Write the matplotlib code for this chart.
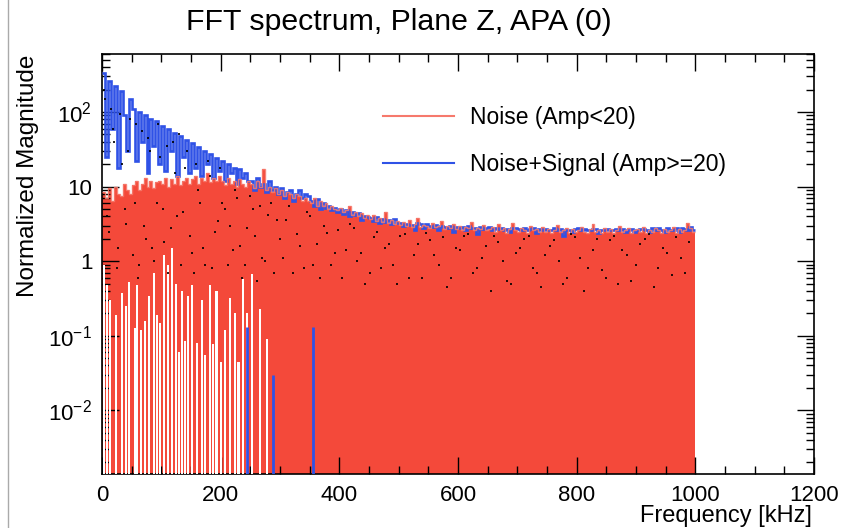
import numpy as np
import matplotlib
matplotlib.use('Agg')
import matplotlib.pyplot as plt
from matplotlib.lines import Line2D
from matplotlib.ticker import MultipleLocator, LogLocator, NullFormatter

plt.rcParams['font.family'] = ['Liberation Sans', 'DejaVu Sans']
plt.rcParams['mathtext.fontset'] = 'custom'
plt.rcParams['mathtext.rm'] = 'Liberation Sans'
plt.rcParams['mathtext.it'] = 'Liberation Sans'

# 5 kHz bins, 0..1000 kHz
bin_edges = np.arange(0, 1005, 5)

# Noise (Amp<20)
noise_mag = [
    8.5, 7, 9.5, 6.5, 10, 8, 7.5, 11, 9, 8,
    10.5, 12, 9, 11, 13, 10, 12, 9.5, 11.5, 12,
    11, 13, 10, 12.5, 11, 14, 10.5, 12, 13, 11,
    12.5, 14, 11, 13, 12, 15, 11.5, 13, 12, 14,
    12, 10.5, 13, 11, 12, 10, 12.5, 11, 10, 12,
    11, 9.5, 12, 10, 17, 9, 10, 8.5, 9.5, 8,
    9, 7.5, 8.5, 8, 7, 8, 7.5, 6.5, 7, 6.5,
    6, 7, 5.5, 6.5, 5.5, 6, 5, 5.5, 5, 4.8,
    5.2, 4.6, 4.8, 5.5, 4.2, 4.5, 4, 4.4, 3.8, 4.1,
    3.7, 4.2, 3.5, 3.8, 3.4, 4.5, 3.3, 3.6, 3.2, 3.5,
    3.1, 3.4, 3, 3.6, 2.9, 3.2, 3.8, 2.9, 3.1, 3,
    2.8, 3.3, 2.9, 3, 3.5, 2.7, 3, 2.8, 3.2, 2.7,
    3, 2.6, 2.9, 2.8, 3.4, 2.6, 2.8, 2.7, 3.1, 2.6,
    2.7, 2.9, 2.5, 3.2, 2.6, 2.8, 2.4, 2.7, 3.3, 2.6,
    2.5, 2.8, 2.6, 2.4, 3, 2.6, 2.7, 2.5, 2.9, 2.5,
    2.7, 2.4, 2.6, 3.1, 2.5, 2.6, 2.8, 2.4, 2.7, 2.5,
    2.6, 2.9, 2.5, 2.4, 2.7, 3.2, 2.5, 2.6, 2.4, 2.8,
    2.5, 2.7, 2.4, 2.6, 3, 2.5, 2.6, 2.8, 2.4, 2.6,
    2.7, 2.5, 2.9, 2.4, 2.6, 2.5, 2.8, 2.6, 2.4, 2.7,
    2.5, 2.6, 2.9, 2.4, 2.7, 2.5, 2.6, 3.3, 2.8, 2.5,
]

# Noise+Signal (Amp>=20)
signal_mag = [
    330, 25, 260, 60, 220, 18, 190, 90, 30, 150,
    110, 22, 100, 40, 90, 15, 80, 35, 75, 20,
    65, 16, 60, 30, 52, 14, 48, 25, 42, 15,
    38, 18, 34, 14, 30, 20, 27, 13, 24, 16,
    22, 12, 20, 15, 18, 11, 17, 13, 15, 12,
    12, 9, 13, 10, 11, 8.5, 12, 9, 10, 8,
    9.5, 7, 8.5, 9, 6.5, 8, 9, 7, 8, 7.5,
    6.5, 5.5, 6.8, 5, 6, 5.2, 5.5, 4.8, 5.2, 4.5,
    5, 4.3, 4.8, 4, 4.5, 4.2, 4.4, 3.6, 4, 3.9,
    3.8, 3.5, 3.9, 3.3, 3.7, 3.4, 3.6, 3.2, 3.7, 3.3,
    3.3, 3.0, 3.2, 3.1, 3.1, 2.6, 3.3, 3.2, 2.8, 3.2,
    3.0, 2.9, 3.1, 2.6, 3.0, 2.9, 2.8, 3.0, 2.5, 2.9,
    2.8, 2.9, 2.6, 3.0, 2.8, 2.8, 2.3, 2.9, 2.7, 2.8,
    2.9, 2.6, 2.8, 2.7, 2.8, 2.6, 2.7, 2.5, 2.8, 2.8,
    2.7, 2.6, 2.8, 2.6, 2.7, 2.8, 2.4, 2.7, 2.6, 2.7,
    2.6, 2.6, 2.8, 2.6, 2.7, 2.2, 2.6, 2.6, 2.5, 2.7,
    2.8, 2.6, 2.7, 2.6, 2.6, 2.7, 2.7, 2.4, 2.6, 2.6,
    2.7, 2.6, 2.6, 2.7, 2.6, 2.7, 2.5, 2.6, 2.7, 2.5,
    2.6, 2.7, 2.7, 2.6, 2.5, 2.8, 2.6, 2.8, 2.6, 2.5,
    2.8, 2.6, 2.6, 2.8, 2.5, 2.8, 2.7, 2.6, 2.9, 2.6,
]

# empty (low) noise bins at low frequency
gap_freq = [3, 8, 14, 24, 34, 40, 46, 56, 59, 66, 72, 79, 87, 93, 98, 105, 111, 118, 124, 130,
            135, 140, 145, 151, 160, 168, 174, 182, 187, 193, 201, 207, 215, 224, 230, 238, 245, 253, 267, 278]
gap_mag = [0.9, 0.48, 0.3, 0.19, 0.37, 0.25, 0.53, 0.127, 0.48, 0.12, 0.157, 0.34, 0.7, 0.19, 0.15, 1.2, 0.9, 1.5, 0.5, 0.06,
           0.4, 0.086, 0.34, 0.48, 0.08, 0.3, 0.055, 0.48, 0.078, 0.4, 0.044, 0.12, 0.32, 0.2, 0.044, 0.58, 0.2, 0.67, 0.23, 0.09]

# signal bins dropping to ~0
dip_freq = [244, 289, 356]
dip_mag = [0.13, 0.03, 0.13]

# black markers
dot_freq = [
    5, 12, 18, 25, 30, 38, 44, 52, 58, 63,
    70, 77, 85, 92, 98, 105, 112, 120, 126, 133,
    140, 148, 155, 162, 170, 178, 186, 195, 203, 212,
    220, 228, 236, 245, 254, 262, 270, 280, 290, 300,
    310, 322, 334, 345, 356, 368, 380, 392, 405, 418,
    430, 444, 458, 470, 484, 497, 510, 525, 540, 553,
    568, 582, 596, 610, 625, 640, 655, 668, 682, 697,
    712, 726, 740, 755, 770, 784, 798, 812, 827, 842,
    856, 870, 885, 900, 915, 930, 945, 960, 975, 990,
    3, 9, 15, 21, 27, 34, 40, 47, 55, 61,
    67, 74, 81, 88, 95, 102, 109, 116, 123, 130,
    137, 144, 151, 158, 166, 174, 182, 190, 199, 208,
    216, 224, 232, 241, 250, 258, 266, 275, 285, 295,
    305, 316, 328, 340, 351, 362, 374, 386, 398, 411,
    424, 437, 451, 464, 477, 490, 503, 517, 532, 546,
    560, 575, 589, 603, 617, 632, 647, 661, 675, 690,
    704, 719, 733, 747, 762, 777, 791, 805, 819, 834,
    849, 863, 877, 892, 907, 922, 937, 952, 967, 982,
]
dot_mag = [
    150, 2.5, 60, 0.8, 95, 5, 30, 1.2, 70, 0.9,
    3, 45, 1.5, 6, 25, 1.8, 0.7, 40, 4, 0.9,
    18, 2.2, 0.7, 9, 1.5, 22, 0.8, 3.5, 6, 0.9,
    1.4, 7, 0.6, 2.8, 5, 0.55, 1.1, 4.2, 0.7, 2,
    3.6, 0.7, 1.6, 4.5, 0.9, 0.6, 2.4, 1.3, 0.6, 3.2,
    1, 0.5, 2.1, 0.8, 1.7, 0.5, 2.3, 1.2, 0.6, 1.9,
    0.9, 0.45, 1.5, 2.2, 0.7, 1.1, 0.4, 1.8, 0.55, 1.3,
    2, 0.8, 0.45, 1.6, 1, 0.6, 2.1, 0.4, 1.4, 0.75,
    1.9, 0.5, 1.2, 0.9, 2, 0.45, 1.5, 0.65, 1.1, 1.8,
    200, 4, 110, 40, 1.5, 20, 3.2, 80, 6, 0.6,
    55, 2, 30, 1, 70, 5, 35, 2.8, 15, 50,
    4.5, 30, 1.3, 20, 6, 0.9, 14, 2.5, 18, 5,
    3, 9, 1.6, 0.9, 7.5, 2.2, 5.5, 1, 6, 3.6,
    1.1, 5.5, 2.3, 0.8, 4, 1.7, 3, 0.9, 2.6, 1.4,
    2.8, 1.3, 0.7, 2.5, 1.5, 0.9, 2.2, 0.6, 1.7, 2.4,
    1.2, 2.1, 0.6, 1.4, 2.3, 0.8, 1.6, 2.2, 1, 0.5,
    1.5, 2.2, 0.7, 1.2, 1.9, 0.5, 2.3, 1.1, 0.8, 2,
    0.6, 2.2, 1.4, 0.55, 1.7, 2.3, 0.8, 1.3, 2.1, 0.7,
]

RED = '#f4493a'
RED_LINE = '#f6796c'
BLUE = '#2f52e6'
YMIN, YMAX = 0.0014, 600

fig = plt.figure(figsize=(8.48, 5.28), dpi=100, facecolor='white')
ax = fig.add_axes([102 / 848, 1 - 474 / 528, 712 / 848, 420 / 528])
ax.set_yscale('log')

ax.stairs(noise_mag, bin_edges, fill=True, baseline=1e-5, color=RED, zorder=2)
ax.bar(gap_freq, gap_mag, width=3.5, bottom=1e-5, color='white', linewidth=0, zorder=3)
ax.stairs(signal_mag, bin_edges, baseline=None, color=BLUE, lw=1.9, zorder=4)
ax.stairs(noise_mag, bin_edges, baseline=None, color=RED_LINE, lw=1.0, alpha=0.9, zorder=5)
ax.vlines(dip_freq, 1e-5, dip_mag, color=BLUE, lw=2, zorder=5)
ax.plot(dot_freq, dot_mag, 's', color='black', ms=2.0, mew=0, alpha=0.85, zorder=6)

ax.set_xlim(0, 1200)
ax.set_ylim(YMIN, YMAX)

ax.xaxis.set_major_locator(MultipleLocator(200))
ax.xaxis.set_minor_locator(MultipleLocator(50))
ax.set_yticks([1e-2, 1e-1, 1, 10, 100])
ax.set_yticklabels([r'$10^{-2}$', r'$10^{-1}$', '1', '10', r'$10^{2}$'])
ax.yaxis.set_minor_locator(LogLocator(base=10, subs=np.arange(2, 10)))
ax.yaxis.set_minor_formatter(NullFormatter())
ax.tick_params(which='both', direction='in', top=True, right=True, width=1.0, labelsize=16)
ax.tick_params(which='major', length=12)
ax.tick_params(which='minor', length=6)
ax.tick_params(axis='x', pad=8)
ax.tick_params(axis='y', pad=7)
for s in ax.spines.values():
    s.set_linewidth(1.2)
ax.set_axisbelow(False)

handles = [Line2D([0], [0], color=RED_LINE, lw=1.5), Line2D([0], [0], color=BLUE, lw=1.5)]
ax.legend(handles, ['Noise (Amp<20)', 'Noise+Signal (Amp>=20)'], frameon=False,
          loc='upper left', bbox_to_anchor=(0.395, 0.876), borderaxespad=0, borderpad=0,
          fontsize=16.5, handlelength=3.1, handletextpad=0.7, labelspacing=1.05)

fig.text(399 / 848, 1 - 22 / 528, 'FFT spectrum, Plane Z, APA (0)', ha='center', va='center', fontsize=21.8)
fig.text(812 / 848, 1 - 516 / 528, 'Frequency [kHz]', ha='right', va='center', fontsize=17)
fig.text(28 / 848, 1 - 176 / 528, 'Normalized Magnitude', ha='center', va='center', rotation=90, fontsize=17.5)
fig.add_artist(Line2D([8 / 848, 8 / 848], [0, 1], transform=fig.transFigure, color='#aaaaaa', lw=1))

fig.savefig('out.png', dpi=100, facecolor='white')
